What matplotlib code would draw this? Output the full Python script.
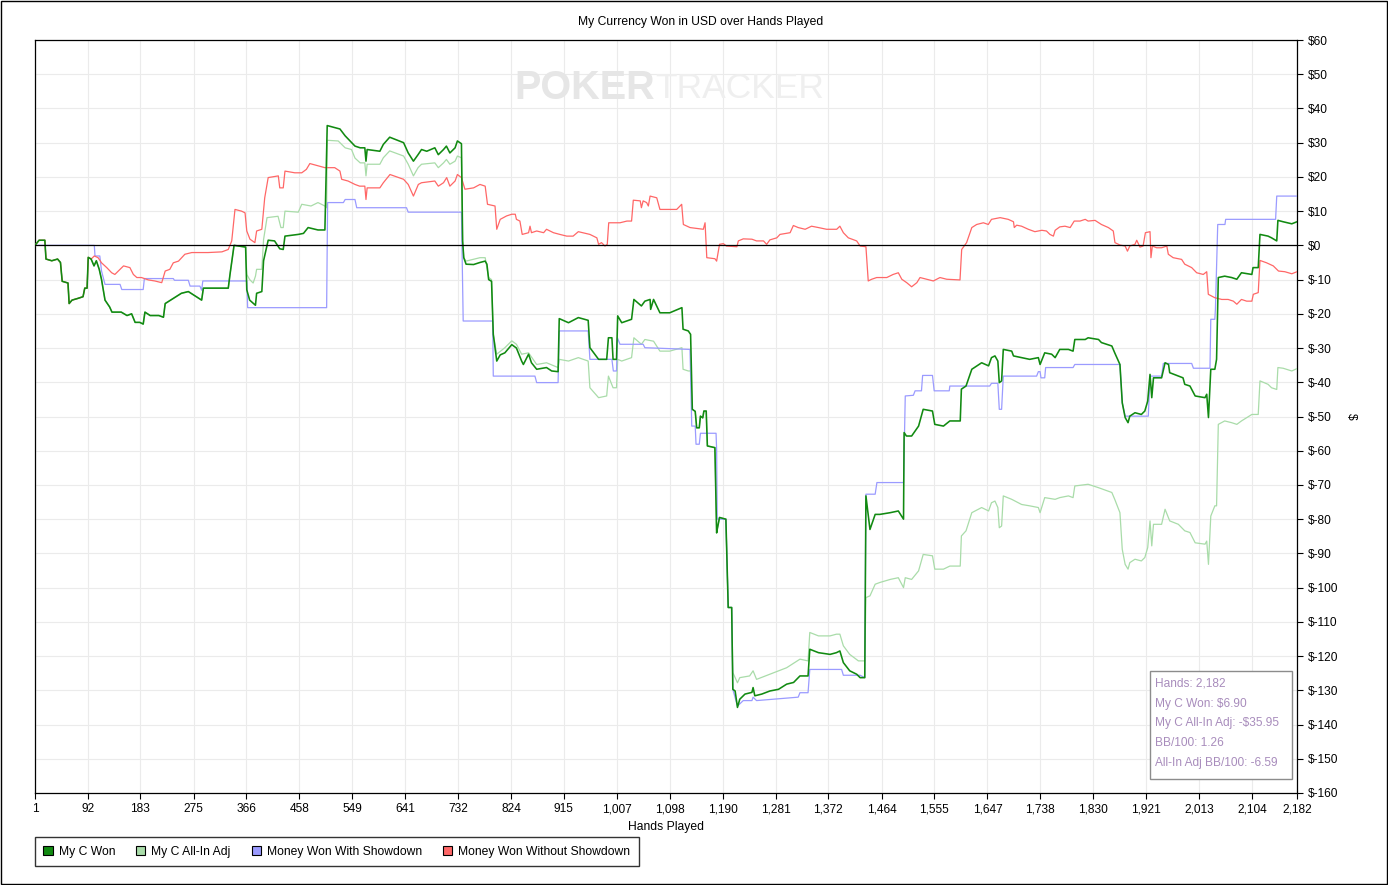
import matplotlib
matplotlib.use("Agg")
import matplotlib.pyplot as plt
from matplotlib.patches import Patch, Rectangle

plt.rcParams['font.family'] = ['Liberation Sans', 'DejaVu Sans']

# x ticks (hands)
tick_hands = [1, 92, 183, 275, 366, 458, 549, 641, 732, 824, 915, 1007, 1098,
              1190, 1281, 1372, 1464, 1555, 1647, 1738, 1830, 1921, 2013, 2104, 2182]
tick_dollars = list(range(60, -170, -10))

# My C Won
won_h = [1, 8, 18, 20, 30, 40, 45, 48, 58, 60, 65, 75, 84, 87, 91, 93, 98, 103, 107, 112,
         116, 122, 130, 134, 150, 160, 168, 174, 182, 188, 191, 200, 215, 223, 226, 240, 254,
         266, 280, 289, 292, 335, 338, 345, 365, 367, 372, 382, 384, 393, 396, 404, 415, 424,
         430, 433, 456, 465, 473, 490, 502, 506, 528, 537, 554,
         563, 571, 573, 575, 597, 603, 614, 638, 646, 655, 663, 669, 678, 692, 698, 707, 712,
         718, 727, 731, 738, 740, 742, 746, 759, 770, 779, 782, 785, 790, 793, 799, 805, 813,
         825, 833, 842, 845, 854, 859, 868, 885, 894, 905, 907, 923, 940, 957, 960, 975, 989,
         992, 998, 1000, 1006, 1008, 1015, 1032, 1036, 1049, 1055, 1064, 1065, 1070, 1081,
         1098, 1119, 1121, 1130, 1134, 1137, 1142, 1144.5, 1149, 1151, 1155, 1157, 1161, 1163,
         1176, 1179, 1180, 1184, 1195, 1199, 1205, 1207, 1211, 1215, 1219, 1228, 1240, 1242,
         1245, 1257, 1271, 1286, 1300, 1312, 1323, 1337, 1340, 1355, 1375, 1386, 1392, 1398,
         1409, 1421, 1427, 1435, 1437, 1444, 1453, 1461, 1479, 1493, 1502, 1503, 1507, 1516,
         1528, 1536, 1552, 1556, 1571, 1582, 1600, 1602, 1610, 1620, 1637, 1649,
         1654, 1660, 1665, 1667.5, 1671.5, 1674.4, 1689, 1692, 1706, 1720, 1735, 1738, 1746,
         1758, 1764, 1772, 1787, 1795, 1798, 1816, 1821, 1839, 1844, 1862, 1867, 1876, 1880,
         1885, 1890, 1893, 1902, 1913, 1919, 1924, 1928, 1931, 1934, 1948, 1954, 1960, 1962,
         1977, 1985, 1988, 1997, 2006, 2023, 2026, 2029, 2033, 2040, 2043, 2046, 2057, 2069,
         2078, 2086, 2104, 2106, 2115, 2118, 2132, 2138, 2147, 2149, 2158, 2173, 2182]
won_v = [0, 1.5, 1.5, -4, -4.5, -4, -5, -10.5, -11, -17, -16, -15.5, -15, -12.5, -12.5, -3.5, -4,
         -6, -4.5, -7, -10, -16, -18, -19.5, -19.5, -20.5, -20, -22.5, -22.5, -23, -19.5, -20.5,
         -20.5, -21, -17, -15.5, -14, -13.5, -15, -16, -12.5, -12.5, -8.5, 0, -0.5, -13, -16,
         -17.5, -14, -13.5, -4.5, 1.5, 1.3, -1, -1.2, 2.7, 3.2, 3.5, 5.2, 4.5, 4.5, 35, 34, 32, 29,
         28.5, 28.5, 24.6, 28, 27.5, 29.5, 31.6, 30, 27, 24.6, 26.5, 28, 27.5, 28.5, 26.5, 28, 29,
         27, 28.5, 30.5, 29.7, 1.3, -3.6, -5.5, -5.6, -5, -4.6, -5.5, -10, -10.5, -26, -33.8, -32,
         -31.4, -29, -30, -33.8, -34.8, -31.8, -34.3, -36.2, -35.7, -36.7, -36.9, -21.4, -22.6,
         -21.1, -21.9, -29.9, -33.3, -33.3, -27, -27, -33.3, -33.3, -20.6, -22.6, -21.6, -15.8,
         -17.7, -16.3, -15.8, -18.7, -15.8, -19.7, -19.7, -18.2, -24.5, -25, -26, -47.9, -48.5,
         -53.3, -53.3, -49.9, -50.4, -48.4, -48.4, -58.6, -59.1, -84, -83, -79.5, -80, -105.8,
         -105.8, -129.7, -130.2, -135, -132.6, -131.1, -130.6, -129.2, -131.6, -131.1, -130.2,
         -129.7, -128.2, -127.7, -125.8, -125.8, -118, -119, -119.5, -119, -118.5, -121.9,
         -124.3, -125.3, -126.3, -126.3, -73.2, -83, -78.6, -78.6, -78.1, -77.6, -80, -54.7,
         -55.7, -55.7, -52.8, -47.9, -48.4, -52.3, -52.8, -51.3, -51.3, -42, -41.1, -36.2, -34.3,
         -35.2, -32.8, -32.3, -33.8, -40.1, -39.6, -30.4, -30.9, -32.3, -32.8, -33.3, -32.8,
         -34.8, -31.4, -31.8, -32.8, -30.4, -30.4, -30.9, -27.5, -27.5, -27, -27.5, -28.4, -29.4,
         -31.4, -34.8, -46, -50.3, -51.8, -49.9, -48.9, -49.4, -48.4, -45.5, -37.7, -44.5, -38.7,
         -38.7, -34.3, -34.8, -37.2, -38.2, -38.7, -40.6, -41.1, -44, -44.5, -43.5, -50.3, -36.2,
         -36.2, -33.3, -9.4, -9, -9.4, -9.9, -8, -8.5, -6.5, -6.5, 3.2, 2.7, 2.2, 1.3, 7.3, 6.9,
         6.3, 6.9]

# My C All-In Adj
adj_h = [1, 8, 18, 20, 30, 40, 45, 48, 58, 60, 65, 75, 84, 87, 91, 93, 98, 103, 107, 112,
         116, 122, 130, 134, 150, 160, 168, 174, 182, 188, 191, 200, 215, 223, 226, 240, 254,
         266, 280, 289, 292, 335, 338, 345, 365, 367, 372, 378, 382, 384, 393, 396, 402, 421,
         426, 430, 433, 456, 462, 478, 490, 502, 505, 506, 525, 537, 548, 554,
         563, 571, 573, 575, 597, 603, 614, 638, 646, 655, 663, 669, 692, 698, 707, 712, 718,
         727, 731, 738, 740, 742, 746, 770, 779, 785, 790, 793, 799, 813, 825, 833, 842, 854,
         868, 885, 905, 907, 923, 940, 957, 960, 975, 989, 992, 1000, 1006, 1008, 1015, 1032,
         1036, 1049, 1055, 1070, 1081, 1098, 1119, 1121, 1130, 1134, 1137, 1142, 1144.5, 1149,
         1151, 1155, 1157, 1161, 1163, 1176, 1179, 1180, 1184, 1195, 1199, 1205, 1207, 1215,
         1219, 1236, 1242, 1248, 1271, 1286, 1300, 1323, 1337, 1340, 1355, 1375, 1386, 1392,
         1398, 1409, 1424, 1435, 1437, 1444, 1453, 1461, 1479, 1493, 1502, 1505, 1516, 1528,
         1536, 1552, 1556, 1571, 1582, 1600, 1602, 1610, 1620, 1637, 1649,
         1654, 1660, 1665, 1667.5, 1671.5, 1674.4, 1689, 1706, 1720, 1735, 1738, 1746, 1764,
         1772, 1787, 1795, 1798, 1821, 1839, 1862, 1867, 1876, 1880, 1885, 1890, 1893, 1902,
         1913, 1919, 1924, 1928, 1931, 1934, 1948, 1954, 1962, 1977, 1988, 1997, 2006, 2023,
         2026, 2029, 2033, 2040, 2043, 2046, 2057, 2069, 2078, 2086, 2104, 2115, 2118, 2132,
         2138, 2147, 2149, 2158, 2173, 2182]
adj_v = [0, 1.5, 1.5, -4, -4.5, -4, -5, -10.5, -11, -17, -16, -15.5, -15, -12.5, -12.5, -3.5, -4,
         -6, -4.5, -7, -10, -16, -18, -19.5, -19.5, -20.5, -20, -22.5, -22.5, -23, -19.5, -20.5,
         -20.5, -21, -17, -15.5, -14, -13.5, -15, -16, -12.5, -12.5, -8.5, 0, -0.5, -8.5, -10,
         -11, -9, -7, -7, 1.7, 8.1, 8.5, 5.2, 5.2, 10, 9.7, 12, 11.5, 12.5, 11.5, 11, 30.7, 30.5,
         28.5, 28, 25.5,
         24.1, 24.1, 20.3, 23.7, 23.7, 25.6, 27.6, 26.1, 23.7, 20.3, 22.7, 23.7, 24.1, 22.7, 24.1,
         25.1, 23.7, 24.6, 26.1, 25.6, 1.3, -3.6, -4.6, -3.6, -3.6, -9.4, -10, -26, -31.8, -29.9,
         -27.9, -28.9, -31.8, -31.4, -34.8, -34.3, -35.7, -33.3, -33.8, -32.8, -33.8, -41.6,
         -44.5, -44, -38.2, -41.6, -41.6, -33.3, -33.8, -32.8, -27, -28.9, -27.5, -28, -30.9,
         -30.9, -29.9, -36.2, -36.7, -36.7, -47.9, -48.5, -53.3, -53.3, -49.9, -50.4, -48.4,
         -48.4, -58.6, -59.1, -84, -83, -79.5, -80, -105.8, -105.8, -124.8, -127.8, -126.3,
         -125.8, -124.3, -126.8, -125.3, -124.3, -123.4, -120.9, -121.4, -113.1, -114.1, -114.1,
         -113.6, -113.6, -117, -119.5, -121.4, -121.4, -102.9, -102.4, -99, -98.5, -97.6, -97.1,
         -100, -97.1, -97.6, -95.1, -90.3, -90.7, -94.6, -94.6, -93.7, -93.7, -84.9, -83.4,
         -78.1, -76.6, -77.6,
         -75.2, -74.7, -76.6, -82.5, -82, -73.2, -74.2, -75.7, -76.1, -76.6, -78.1, -73.7, -74.2,
         -73.7, -73.2, -73.7, -70.3, -69.8, -70.8, -72.2, -74.2, -78.1, -88.8, -93.2, -94.6,
         -92.7, -91.7, -92.2, -91.2, -88.3, -80.5, -87.8, -81.5, -81.5, -77.1, -80.5, -81.5,
         -83.4, -83.9, -86.9, -87.3, -86.4, -93.2, -79.1, -76.1, -76.1, -52.3, -51.3, -51.8,
         -52.3, -51.3, -49.4, -49.4, -39.6, -40.6, -41.6, -42.1, -35.7, -35.9, -36.7, -36]

# Money Won With Showdown
sd_h = [1, 103.5, 104.7, 113, 116, 122, 148, 151, 188, 190, 240, 242, 266, 269, 286, 289, 291,
        367, 368.5, 505, 506.7, 534, 537, 554, 557, 643, 646, 738, 741, 792, 793, 865, 868, 905,
        907, 957, 960, 998, 1000.5, 1006, 1007.5, 1012, 1052, 1055, 1133, 1136, 1142, 1143.4,
        1149, 1151, 1178, 1179, 1180, 1195, 1199, 1205, 1207, 1215, 1225, 1240, 1242, 1248,
        1320, 1323, 1337, 1340, 1395, 1398, 1427, 1435, 1437, 1453, 1456, 1502, 1505, 1519,
        1522, 1533, 1535, 1552, 1555, 1581, 1582, 1651, 1654, 1665, 1667.5, 1671.5, 1674.4,
        1732, 1735, 1738, 1739.5, 1746, 1747.6, 1795, 1798, 1876, 1880, 1885, 1925, 1928, 1948,
        1951, 2000, 2003, 2031.6, 2033, 2040, 2041, 2045, 2057.5, 2058.7, 2145, 2147, 2182]
sd_v = [0, 0, -3.1, -3.1, -7.5, -11.4, -11.4, -12.9, -12.9, -9.7, -9.7, -10.2, -10.2, -11.9,
        -11.9, -13.1, -10.4, -10.4, -18.2, -18.2, 12.5, 12.5, 13.4, 13.4, 11, 11, 9.7, 9.7,
        -22.1, -22.1, -38.2, -38.2, -40.1, -40.1, -25, -25, -33.3, -33.3, -36.7, -36.7, -27,
        -28.9, -28.9, -29.9, -30.4, -52.8, -52.8, -58.1, -58.1, -54.9, -54.9, -59.6, -80, -80,
        -105.8, -105.8, -129.7, -134.6, -133, -133, -132, -133, -132, -130.7, -130.7, -123.9,
        -123.9, -125.6, -125.6, -126.3, -72.7, -72.7, -69.3, -69.3, -44, -43.8, -42.5, -42.5,
        -38, -38, -42.5, -42.5, -41.1, -41.1, -40.3, -40.3, -47.9, -47.9, -38.2, -38.2, -36.9,
        -36.9, -38.7, -38.7, -35.7, -35.7, -34.8, -34.8, -46, -49.9, -49.9, -38.2, -38.2, -34.5,
        -34.5, -35.9, -35.9, -21.6, -21.6, -18.7, 6.1, 6.1, 7.6, 7.6, 14.4, 14.4]

# Money Won Without Showdown
nsd_h = [1, 8, 18, 20, 30, 40, 45, 48, 58, 60, 65, 75, 84, 87, 91, 93, 98, 103.5, 110, 116, 125,
         133.5, 139, 145, 154, 165, 171, 177, 185, 197, 208, 220, 226, 234, 240, 249, 260, 272,
         300, 324, 335, 341, 346.6, 358, 364, 367, 372.5, 381, 384, 393, 398, 404, 421.5, 424,
         430, 433, 450, 462, 470, 476, 491, 502, 519, 528, 531, 542, 554, 562,
         571, 573, 575, 597, 603, 614.5, 638, 646, 655, 663.5, 669, 692, 698, 707, 712.5, 718,
         727, 731, 738, 744, 759, 770, 779, 783, 796, 799, 805, 816, 825, 831, 833, 839, 843,
         854, 856.5, 859, 868, 880, 885, 897, 908, 920, 931, 940, 960, 972, 975, 980, 986, 990,
         992.5, 1012, 1024, 1032, 1035, 1047, 1049, 1052, 1058, 1061, 1064, 1075.5, 1081, 1093,
         1110, 1118.6, 1121.5, 1133,
         1156, 1159, 1162, 1176, 1179, 1184, 1190.6, 1196, 1214, 1216.5, 1225, 1240, 1248, 1260,
         1265.5, 1271, 1283, 1288.5, 1306, 1311.6, 1320, 1332, 1343, 1355, 1369, 1386.5, 1392,
         1398, 1406.6, 1421, 1427, 1437, 1441, 1447, 1455.6, 1473, 1484, 1493, 1499, 1507.5,
         1516, 1525, 1530.5, 1542, 1553.5, 1565, 1576.6, 1599.6, 1602.5, 1611, 1620, 1628.4,
         1640, 1648.5,
         1654, 1669, 1683, 1692, 1693.4, 1697.5, 1706, 1717.6, 1729, 1741, 1749, 1755, 1761,
         1764, 1772, 1781, 1790, 1797, 1807, 1816, 1821, 1833, 1844, 1856, 1864.5, 1867.4, 1876,
         1885, 1889, 1893, 1902, 1905, 1910.6, 1916, 1920, 1928, 1929.6, 1932, 1939.4, 1948,
         1957, 1959.6, 1968, 1982.6, 1988, 2000, 2008.6, 2020, 2026, 2028.7, 2040, 2052, 2063,
         2072, 2078, 2086, 2095, 2104, 2106.5, 2115, 2118, 2129.5, 2141, 2150, 2161, 2173, 2182]
nsd_v = [0, 1.5, 1.5, -4, -4.5, -4, -5, -10.5, -11, -17, -16, -15.5, -15, -12.5, -12.5, -3.5, -4,
         -3.1, -3.6, -5.1, -6.5, -8, -8.5, -7.5, -6, -6.5, -8.5, -9.4, -9.4, -10.1, -10.4, -10.9,
         -7.5, -7, -5.1, -4.6, -2.6, -2.1, -2.1, -1.9, -1.2, 1.3, 10.5, 10, 9.5, 4.2, 1.8, 0.8,
         4.2, 4.7, 13.9, 19.8, 20.3, 16.8, 16.8, 21.7, 21.2, 21.2, 22.2, 23.9, 23.2, 22.7, 22.7,
         21.7, 19.3, 18.8, 17.8, 17.3,
         17.3, 13.4, 16.8, 16.8, 18.3, 20.7, 19.3, 17.8, 14.4, 17.8, 18.3, 18.8, 17.3, 18.3, 19.8,
         17.3, 18.8, 20.7, 19.8, 16.4, 16.8, 17.8, 17.3, 12, 11.5, 4.7, 7.6, 8.6, 9.1, 9.1, 7.6,
         7.1, 3.2, 3.7, 5.6, 3.7, 4.2, 3.7, 4.7, 3.7, 3.2, 2.7, 2.7, 4, 3.2, 2.2, 0.3, 0.8, -0.2,
         0.3, 6.6, 6.6, 7.1, 7.1, 13.2, 13, 11, 13, 12.5, 11.5, 14.4, 13.9, 10.5, 10.5, 10.5, 12,
         6.1, 5.2,
         4.7, 6.6, -3.6, -3.9, -4.6, 0.3, 0.5, -0.2, -0.4, 1.3, 1.9, 1.8, 1.3, 1.3, 0.3, 1.6, 2.2,
         3.2, 3.7, 5.8, 5.2, 4.7, 5.6, 5.2, 4.7, 4.7, 5.6, 3.7, 2.2, 1.3, -0.2, -0.4, -10.4, -9.9,
         -9.4, -9.4, -8.5, -8, -9.9, -10.9, -12.1, -10.9, -9.4, -9.9, -10.4, -9.4, -9.9, -10.1,
         -1.2, 0.8, 5.2, 6.1, 6.6, 6.1,
         7.6, 8.1, 7.6, 6.9, 5.2, 5.9, 5.6, 4.7, 4, 4.4, 4.2, 3.2, 2.7, 4.4, 5.4, 5.6, 5.2, 7.1,
         7.1, 7.6, 7.1, 7.3, 6.1, 5.2, 4.2, 0.8, 0.1, -0.2, -1.7, -0.2, 0.3, 1.5, -0.5, -0.2, 3.7,
         4, -3.6, -0.2, -0.7, -0.7, -0.2, -2.6, -3.6, -4.1, -5.5, -6.5, -8, -8.5, -7.7, -14.3,
         -15.3, -15.8, -15.8, -16.3, -17.2, -15.8, -16.3, -16.3, -14.3, -13.8, -4.4, -5.1, -6,
         -7.5, -7.7, -8.3, -7.7]

series_names = ["My C Won", "My C All-In Adj", "Money Won With Showdown", "Money Won Without Showdown"]
series_colors = ["#118a11", "#a9dca9", "#9b9bff", "#ff6767"]

info_lines = ["Hands: 2,182", "My C Won: $6.90", "My C All-In Adj: -$35.95",
              "BB/100: 1.26", "All-In Adj BB/100: -6.59"]

fig = plt.figure(figsize=(13.88, 8.85), dpi=100)
ax = fig.add_axes([35 / 1388, 1 - 793 / 885, 1262 / 1388, 753 / 885])

ax.plot(adj_h, adj_v, color=series_colors[1], lw=0.9, zorder=3)
ax.plot(sd_h, sd_v, color=series_colors[2], lw=0.9, zorder=3.1)
ax.plot(nsd_h, nsd_v, color=series_colors[3], lw=0.9, zorder=3.2)
ax.plot(won_h, won_v, color=series_colors[0], lw=1.15, zorder=3.3)
ax.axhline(0, color="black", lw=0.9, zorder=3.5)

ax.set_xlim(1, 2182)
ax.set_ylim(-160, 60)
ax.set_xticks(tick_hands)
ax.set_xticklabels([f"{h:,}" for h in tick_hands])
ax.set_yticks(tick_dollars)
ax.set_yticklabels([f"${d}" for d in tick_dollars])
ax.yaxis.tick_right()
ax.yaxis.set_label_position("right")
ax.tick_params(axis="both", direction="out", length=4, width=0.8, labelsize=8.6, colors="black")
ax.grid(True, color="#ebebeb", lw=0.8, zorder=0)
ax.set_axisbelow(True)
for s in ax.spines.values():
    s.set_linewidth(0.9)
    s.set_color("black")

ax.set_xlabel("Hands Played", fontsize=8.7, labelpad=4)
ax.set_ylabel("$", fontsize=8.7, rotation=270, labelpad=14)

fig.text(701 / 1388, 1 - 22 / 885, "My Currency Won in USD over Hands Played",
         ha="center", va="center", fontsize=8.7)

# watermark
ax.text(0.380, 0.936, "POKER", transform=ax.transAxes, fontsize=28.5, fontweight="bold",
        color="#e6e6e6", ha="left", va="center", zorder=1)
ax.text(0.4915, 0.936, "TRACKER", transform=ax.transAxes, fontsize=25.5,
        color="#efefef", ha="left", va="center", zorder=1)

# info box
ax.add_patch(Rectangle((0.8835, 0.0186), 0.1125, 0.1434, transform=ax.transAxes,
                       facecolor="white", edgecolor="#8c8c8c", lw=1, zorder=5))
for i, line in enumerate(info_lines):
    ax.text(0.8875, 0.145 - i * 0.0262, line, transform=ax.transAxes, fontsize=8.6,
            color="#a88cbc", ha="left", va="center", zorder=6)

handles = [Patch(facecolor=c, edgecolor="black", lw=0.8) for c in series_colors]
leg = fig.legend(handles, series_names, loc="lower left", ncol=4,
                 bbox_to_anchor=(35 / 1388, 1 - 866 / 885), frameon=True, fancybox=False,
                 fontsize=8.7, handlelength=0.75, handleheight=0.75, handletextpad=0.5,
                 columnspacing=1.75, borderpad=0.7, borderaxespad=0)
leg.get_frame().set_edgecolor("black")
leg.get_frame().set_linewidth(1)

# outer border
fig.patches.append(Rectangle((0.0005, 0.0008), 0.999, 0.9985, transform=fig.transFigure,
                             fill=False, edgecolor="black", lw=1))

fig.savefig("out.png", dpi=100)
